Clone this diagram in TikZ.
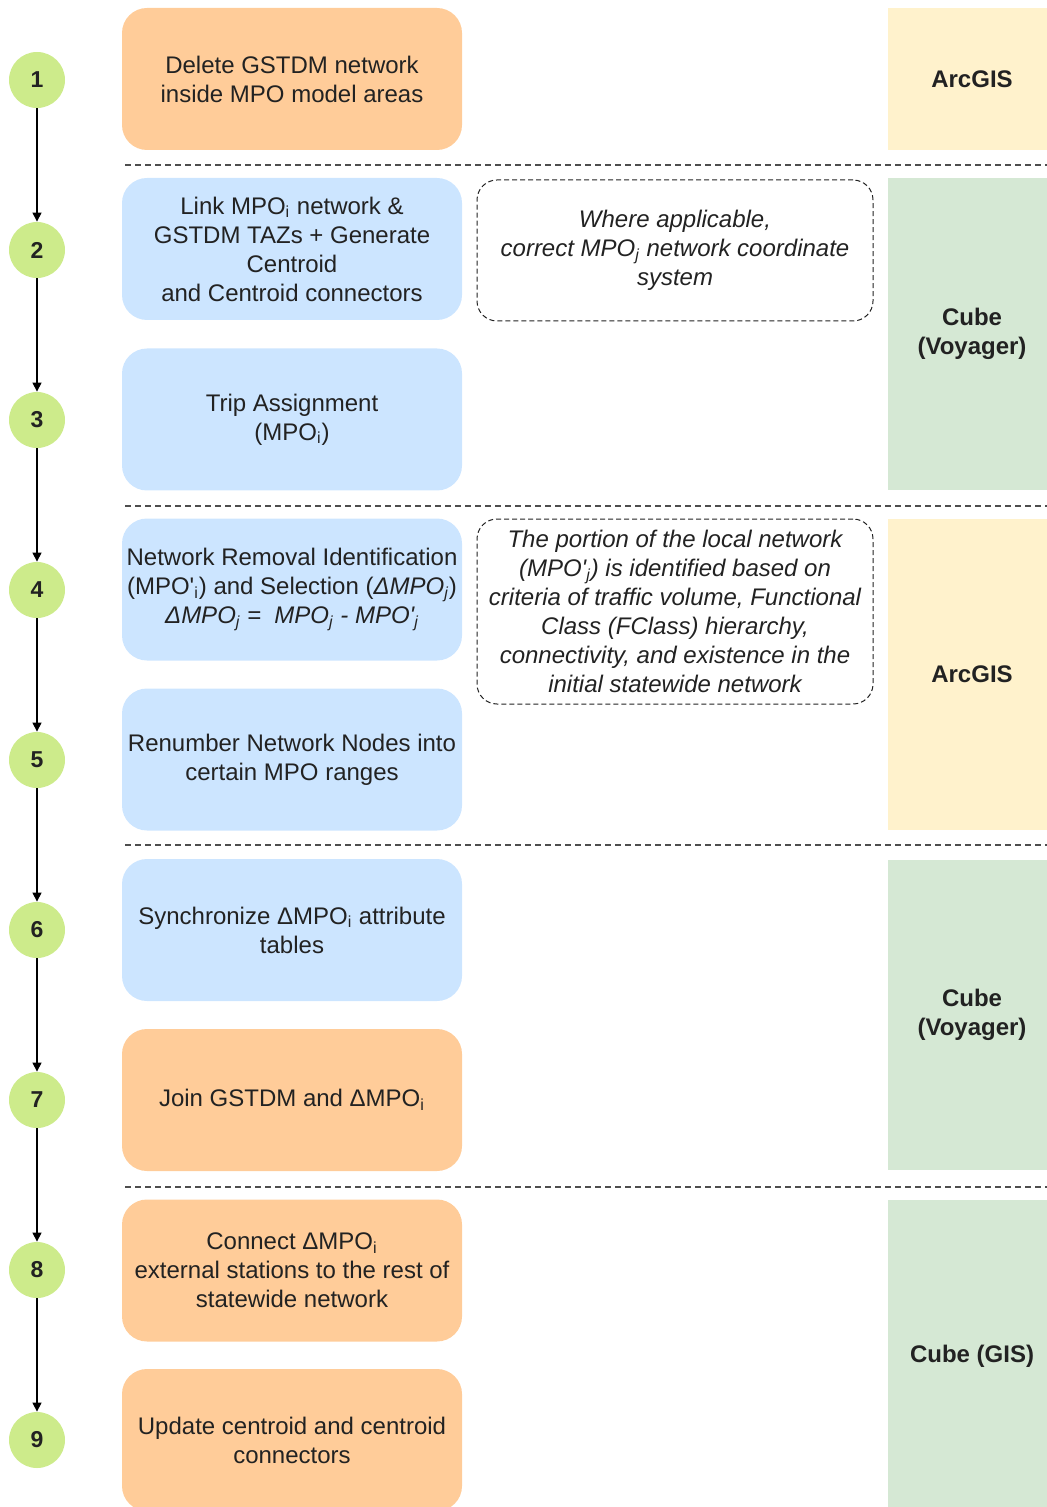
\documentclass[tikz,border=0pt]{standalone}
\usepackage{fontspec}
\setmainfont{Liberation Sans}
\usetikzlibrary{arrows.meta}
\definecolor{orangefill}{HTML}{FFCC99}
\definecolor{bluefill}{HTML}{CCE5FF}
\definecolor{yellowfill}{HTML}{FFF2CC}
\definecolor{greenfill}{HTML}{D5E8D4}
\definecolor{circlefill}{HTML}{CDEB8B}
\definecolor{txt}{HTML}{222222}
\newcommand{\sbi}{\textsubscript{i}}
\newcommand{\sbj}{\textsubscript{\itshape j}}
\newcommand{\pr}{\textquotesingle}
\tikzset{
  stepbox/.style={rounded corners=12.5pt, minimum width=170pt, minimum height=71pt, align=center, inner sep=2pt, text=txt, font=\fontsize{12pt}{14.5pt}\selectfont},
  orangebox/.style={stepbox, fill=orangefill},
  bluebox/.style={stepbox, fill=bluefill},
  toolbox/.style={minimum width=80pt, align=center, text=txt, font=\fontsize{12pt}{14.5pt}\selectfont\bfseries},
  notebox/.style={draw=txt, dashed, dash pattern=on 2.5pt off 1.5pt, line width=0.5pt, rounded corners=10pt, minimum width=198pt, align=center, text=txt, font=\fontsize{12pt}{14.5pt}\selectfont\itshape},
  numcircle/.style={circle, fill=circlefill, minimum size=28pt, inner sep=0pt, text=txt, font=\fontsize{11.5pt}{13pt}\selectfont\bfseries},
  flowarrow/.style={-{Triangle[length=4.5pt,width=4.5pt]}, line width=0.6pt, black},
  separator/.style={draw=txt!80, dash pattern=on 3pt off 2pt, line width=0.6pt}
}
\begin{document}
\begin{tikzpicture}[x=0.5pt,y=-0.5pt]
\useasboundingbox (0,0) rectangle (1047,1507);
\clip (0,0) rectangle (1047,1507);
% tool columns
\fill[yellowfill] (888,8) rectangle (1050,150);
\fill[greenfill] (888,178) rectangle (1050,490);
\fill[yellowfill] (888,519) rectangle (1050,830);
\fill[greenfill] (888,860) rectangle (1050,1170);
\fill[greenfill] (888,1200) rectangle (1050,1512);
\node[toolbox] (t1) at (972,79) {ArcGIS};
\node[toolbox] (t2) at (972,334) {Cube\\(Voyager)};
\node[toolbox] (t3) at (972,674.5) {ArcGIS};
\node[toolbox] (t4) at (972,1015) {Cube\\(Voyager)};
\node[toolbox] (t5) at (972,1356) {Cube (GIS)};
% separators
\coordinate (s1a) at (125,165); \coordinate (s1b) at (1047,165);
\coordinate (s2a) at (125,506); \coordinate (s2b) at (1047,506);
\coordinate (s3a) at (125,845); \coordinate (s3b) at (1047,845);
\coordinate (s4a) at (125,1187); \coordinate (s4b) at (1047,1187);
\draw[separator] (s1a) -- (s1b);
\draw[separator] (s2a) -- (s2b);
\draw[separator] (s3a) -- (s3b);
\draw[separator] (s4a) -- (s4b);
% step boxes
\node[orangebox] (b1) at (292,79) {Delete GSTDM network\\inside MPO model areas};
\node[bluebox] (b2) at (292,249) {Link MPO\sbi{} network \&\\GSTDM TAZs + Generate\\Centroid\\and Centroid connectors};
\node[bluebox] (b3) at (292,419.5) {Trip Assignment\\(MPO\sbi)};
\node[bluebox] (b4) at (292,589.5) {Network Removal Identification\\(MPO\pr\sbi) and Selection (\textit{ΔMPO\sbj})\\\textit{ΔMPO\sbj{} =\ \ MPO\sbj{} - MPO\pr\sbj}};
\node[bluebox] (b5) at (292,759.5) {Renumber Network Nodes into\\certain MPO ranges};
\node[bluebox] (b6) at (292,930) {Synchronize ΔMPO\sbi{} attribute\\tables};
\node[orangebox] (b7) at (292,1100) {Join GSTDM and ΔMPO\sbi};
\node[orangebox] (b8) at (292,1270.5) {Connect ΔMPO\sbi\\external stations to the rest of\\statewide network};
\node[orangebox] (b9) at (292,1440) {Update centroid and centroid\\connectors};
% notes
\node[notebox, minimum height=70.5pt] (n1) at (675,250.5) {Where applicable,\\correct MPO\sbj{} network coordinate\\system};
\node[notebox, minimum height=92.5pt] (n2) at (675,611.5) {The portion of the local network\\(MPO\pr\sbj) is identified based on\\criteria of traffic volume, Functional\\Class (FClass) hierarchy,\\connectivity, and existence in the\\initial statewide network};
% circles
\foreach \i/\y in {1/80,2/250,3/420,4/590,5/760,6/930,7/1100,8/1270,9/1440}
  \node[numcircle] (c\i) at (37,\y) {\i};
\foreach \a/\b in {1/2,2/3,3/4,4/5,5/6,6/7,7/8,8/9}
  \draw[flowarrow] (c\a) -- (c\b);
\end{tikzpicture}
\end{document}
